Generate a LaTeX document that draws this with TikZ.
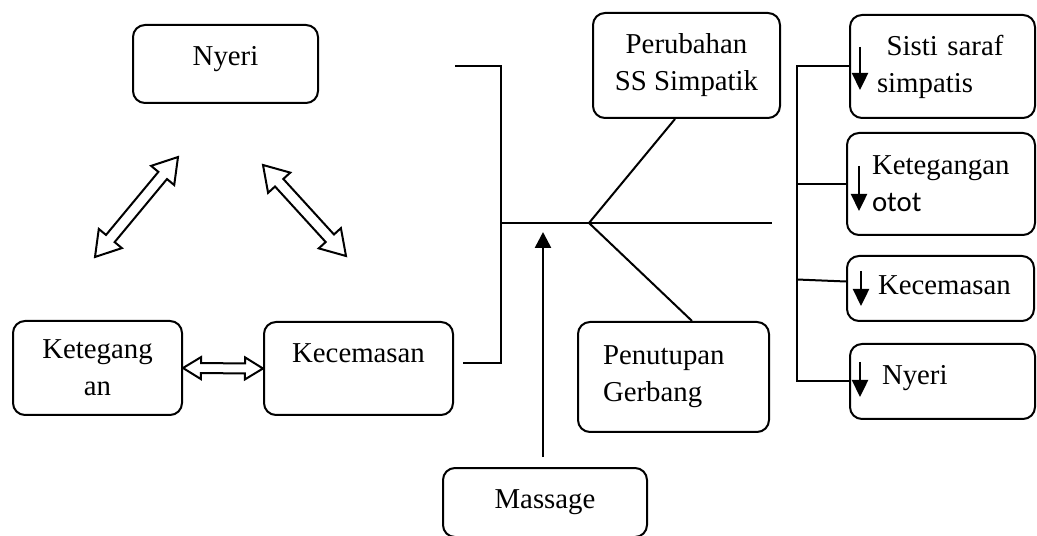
\documentclass[tikz,border=0pt]{standalone}
\usepackage{fontspec}
\setmainfont{Liberation Serif}
\newfontfamily\calibri{Carlito}
\usepackage{tikz}
\usetikzlibrary{arrows.meta,calc}
\hyphenpenalty=10000
\tikzset{
	every path/.style = {line width=1pt},
	box/.style = {draw, rounded corners=6pt, align=center,
		font=\fontsize{14.4pt}{18.5pt}\selectfont},
	lbox/.style = {box, align=left}
}
% outline arrow with two heads: ends, shaft half width, head half width, head length
\newcommand{\hollowarrow}[5]{%
	\draw[line join=miter] (#1)
		-- ($(#1)!#5!(#2)!#4!90:(#2)$) -- ($(#1)!#5!(#2)!#3!90:(#2)$)
		-- ($(#2)!#5!(#1)!#3!-90:(#1)$) -- ($(#2)!#5!(#1)!#4!-90:(#1)$)
		-- (#2)
		-- ($(#2)!#5!(#1)!#4!90:(#1)$) -- ($(#2)!#5!(#1)!#3!90:(#1)$)
		-- ($(#1)!#5!(#2)!#3!-90:(#2)$) -- ($(#1)!#5!(#2)!#4!-90:(#2)$)
		-- cycle;}

\begin{document}
\begin{tikzpicture}[x=0.5pt,y=0.5pt,
	dec/.style={line width=1.2pt,-{Triangle[length=8.5pt,width=8pt]}}]
	\useasboundingbox (0,0) rectangle (1037,535);
	% cycle on the left
	\node[box, minimum width=92.5pt, minimum height=39pt, text depth=8pt] (nyeri) at (225.5,471) {Nyeri};
	\node[box, minimum width=84.5pt, minimum height=47pt] (tegang) at (97.5,167) {Ketegang\\an};
	\node[box, minimum width=94.5pt, minimum height=46.5pt, text depth=15.5pt] (cemas) at (358.5,166.5) {Kecemasan};
	\coordinate (p1) at (95,278);
	\coordinate (p2) at (178,378);
	\coordinate (q1) at (346,279);
	\coordinate (q2) at (263,370);
	\hollowarrow{p1}{p2}{2.8pt}{7.5pt}{12pt}
	\hollowarrow{q1}{q2}{2.8pt}{7.5pt}{12pt}
	\hollowarrow{tegang.east}{cemas.west}{2.5pt}{5.5pt}{9pt}
	% middle part
	\node[box, minimum width=93.5pt, minimum height=52.5pt] (ubah) at (686.5,469.5) {Perubahan\\SS Simpatik};
	\node[lbox, minimum height=55pt, inner xsep=12.5pt, text width=70.5pt] (tutup) at (673.5,158) {Penutupan\\Gerbang};
	\node[box, minimum width=102pt, minimum height=34.5pt] (massage) at (545,32.5) {Massage};
	\coordinate (b1) at (455,469);
	\coordinate (b2) at (463,172);
	\coordinate (stem) at (501,312);
	\coordinate (fork) at (589,312);
	\coordinate (tail) at (772,312);
	\coordinate (hit) at (543,303);
	\draw (b1) -| (stem) |- (b2);
	\draw (stem) -- (fork) -- (tail);
	\draw (fork) -- ([xshift=-5.75pt]ubah.south);
	\draw (fork) -- ([xshift=9.25pt]tutup.north);
	\draw[line width=1.3pt,-{Triangle[length=8pt,width=8pt]}] ($(massage.north -| hit)+(0,10)$) -- (hit);
	% effects on the right
	\node[lbox, minimum height=51.5pt, inner xsep=13.5pt, text width=65.5pt] (s1) at (942.5,468.5) {~Sisti saraf\\simpatis};
	\node[lbox, minimum height=51pt, inner xsep=12.5pt, text width=69pt] (s2) at (941,351) {Ketegangan\\{\calibri otot}};
	\node[lbox, minimum height=32.5pt, inner xsep=15.5pt, text width=62.5pt, text depth=3pt] (s3) at (940.5,246.5) {Kecemasan};
	\node[lbox, minimum height=37.5pt, inner xsep=16pt, text width=60.5pt, text depth=7pt] (s4) at (942.5,153.5) {Nyeri};
	\coordinate (spine) at (797,0);
	\draw (s1.west) -- (s1.west -| spine) |- (s4.west);
	\draw (s2.west) -- (s2.west -| spine);
	\draw ($(s3.west)+(0,7)$) -- ($(s3.west -| spine)+(0,9)$);
	\draw[dec] ([shift={(11,-33)}]s1.north west) -- ++(0,-43);
	\draw[dec] ([shift={(13,-34)}]s2.north west) -- ++(0,-45);
	\draw[dec] ([shift={(15,-16)}]s3.north west) -- ++(0,-35);
	\draw[dec] ([shift={(11,-19)}]s4.north west) -- ++(0,-35);
\end{tikzpicture}
\end{document}
